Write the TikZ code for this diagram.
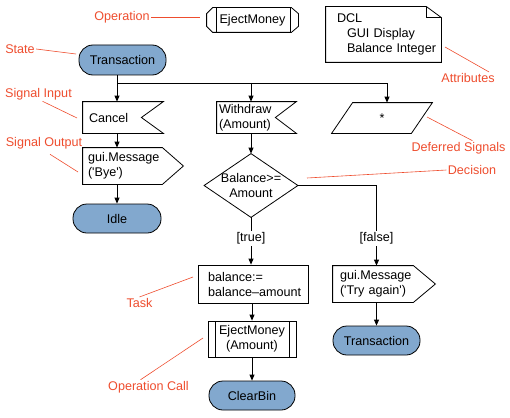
\documentclass[tikz,border=0pt]{standalone}
\usepackage{fontspec}
\setmainfont{Liberation Sans}
\usetikzlibrary{arrows.meta}
\definecolor{statefill}{HTML}{82A8CE}
\definecolor{remarkred}{HTML}{EE4D2E}
\tikzset{
  txt/.style={font=\fontsize{12.6}{15}\selectfont, inner sep=0pt},
  plain/.style={txt, align=left},
  state/.style={txt, draw, fill=statefill, rounded corners=14pt, align=center},
  sidebars/.style={path picture={\draw ([xshift=#1]path picture bounding box.north west) -- ([xshift=#1]path picture bounding box.south west) ([xshift=-#1]path picture bounding box.north east) -- ([xshift=-#1]path picture bounding box.south east);}},
  flow/.style={-{Triangle[length=6pt,width=5pt]}},
  remark/.style={txt, text=remarkred, inner sep=1pt},
  remarkline/.style={draw=remarkred, line width=0.6pt},
  guard/.style={txt, fill=white, inner sep=1.5pt},
}
\begin{document}
\begin{tikzpicture}[x=1pt, y=-1pt, line width=0.8pt]
\useasboundingbox (0,0) rectangle (510,417);
% states
\node[state, minimum width=87pt, minimum height=30pt] (trans) at (122.5,60) {Transaction};
\node[state, minimum width=88pt, minimum height=29pt] (idle) at (117,218.5) {Idle};
\node[state, minimum width=86pt, minimum height=29pt] (clear) at (252,395.5) {ClearBin};
\node[state, minimum width=87pt, minimum height=29pt] (trans2) at (376.5,340.5) {Transaction};
% operation and attributes
\node[txt, minimum width=91pt, minimum height=24pt] (op) at (252.5,20) {EjectMoney};
\draw ([xshift=6pt]op.north west) -- ([xshift=-7pt]op.north east) -- ([yshift=-6pt]op.north east) -- ([yshift=6pt]op.south east) -- ([xshift=-7pt]op.south east) -- ([xshift=6pt]op.south west) -- ([yshift=6pt]op.south west) -- ([yshift=-6pt]op.north west) -- cycle;
\draw ([xshift=10pt]op.north west) -- ([xshift=10pt]op.south west) ([xshift=-8pt]op.north east) -- ([xshift=-8pt]op.south east);
\node[plain, minimum width=115pt, minimum height=55pt, text width=115pt] (note) at (383.5,34.5) {\hspace*{11pt}DCL\\\hspace*{21pt}GUI Display\\\hspace*{21pt}Balance Integer};
\draw (note.south west) -- (note.north west) -- ([xshift=-15pt]note.north east) -- ([yshift=-11pt]note.north east) -- (note.south east) -- cycle;
\draw ([xshift=-15pt]note.north east) |- ([yshift=-11pt]note.north east);
% signals
\node[plain, minimum width=80pt, minimum height=31pt, text width=80pt] (cancel) at (123,117.5) {\hspace*{6pt}Cancel};
\draw (cancel.north west) -- (cancel.north east) -- ([xshift=-22pt]cancel.east) -- (cancel.south east) -- (cancel.south west) -- cycle;
\node[plain, minimum width=79pt, minimum height=31pt, text width=79pt] (withdraw) at (256.5,117.5) {\hspace*{2pt}Withdraw\\\hspace*{2pt}(Amount)};
\draw (withdraw.north west) -- (withdraw.north east) -- ([xshift=-21pt]withdraw.east) -- (withdraw.south east) -- (withdraw.south west) -- cycle;
\node[txt, minimum width=100pt, minimum height=30pt] (deferred) at (382,118) {*};
\draw ([xshift=21pt]deferred.north west) -- (deferred.north east) -- ([xshift=-21pt]deferred.south east) -- (deferred.south west) -- cycle;
\node[plain, minimum width=79pt, minimum height=36pt, text width=79pt] (bye) at (122.5,166) {\hspace*{5pt}gui.Message\\\hspace*{5pt}(\textquotesingle Bye\textquotesingle)};
\draw (bye.north west) -- (bye.north east) -- ([xshift=21pt]bye.east) -- (bye.south east) -- (bye.south west) -- cycle;
\node[plain, minimum width=80pt, minimum height=36pt, text width=80pt] (tryagain) at (373,284) {\hspace*{7pt}gui.Message\\\hspace*{7pt}(\textquotesingle Try again\textquotesingle)};
\draw (tryagain.north west) -- (tryagain.north east) -- ([xshift=22pt]tryagain.east) -- (tryagain.south east) -- (tryagain.south west) -- cycle;
% decision, task, call
\node[txt, align=center, minimum width=93pt, minimum height=63pt] (dec) at (251,185.5) {Balance>=\\Amount};
\draw (dec.north) -- (dec.east) -- (dec.south) -- (dec.west) -- cycle;
\node[plain, draw, minimum width=110pt, minimum height=38pt, text width=110pt] (task) at (253,284) {\hspace*{10pt}balance:=\\\hspace*{10pt}balance\textendash amount};
\node[txt, draw, align=center, minimum width=88pt, minimum height=36pt, sidebars=7pt] (opcall) at (252,339) {EjectMoney\\(Amount)};
% flow
\coordinate (fork) at (117,83);
\draw[flow] (trans.south -| idle) -- (cancel.north -| idle);
\draw[flow] (idle |- fork) -| ([xshift=5pt]deferred.north);
\draw[flow] (dec |- fork) -- (withdraw.north -| dec);
\draw[flow] (cancel.south -| idle) -- (bye.north -| idle);
\draw[flow] (bye.south -| idle) -- (idle.north);
\draw[flow] (withdraw.south -| dec) -- (dec.north);
\draw[flow] (dec.south) -- node[guard, pos=0.44] {[true]} (task.north -| dec);
\draw[flow] (dec.east) -| node[guard, pos=0.83] {[false]} (tryagain.north -| trans2);
\draw[flow] (task.south -| opcall) -- (opcall.north);
\draw[flow] (opcall.south) -- (clear.north);
\draw[flow] (tryagain.south -| trans2) -- (trans2.north);
% remarks
\node[remark] (oplbl) at (122,17) {Operation};
\node[remark] (stlbl) at (20,49) {State};
\node[remark] (silbl) at (38.5,94) {Signal Input};
\node[remark] (solbl) at (44,143) {Signal Output};
\node[remark] (attlbl) at (468,78) {Attributes};
\node[remark] (deflbl) at (458.5,148) {Deferred Signals};
\node[remark] (declbl) at (472,170) {Decision};
\node[remark] (tasklbl) at (139.5,303) {Task};
\node[remark] (oclbl) at (148.5,387) {Operation Call};
\coordinate (oppt) at (200,17);
\coordinate (stpt) at (76,54);
\coordinate (sipt) at (77,118);
\coordinate (sopt) at (78,172);
\coordinate (attpt) at (445,47);
\coordinate (defpt) at (427,117);
\coordinate (decpt) at (307,178);
\coordinate (taskpt) at (193,277);
\coordinate (ocpt) at (203,338);
\draw[remarkline] (oplbl.east) -- (oppt);
\draw[remarkline] (stlbl.east) -- (stpt);
\draw[remarkline] ([xshift=4pt]silbl.south) -- (sipt);
\draw[remarkline] ([xshift=6pt,yshift=-4pt]solbl.south) -- (sopt);
\draw[remarkline] ([xshift=-7pt]attlbl.north east) -- (attpt);
\draw[remarkline] ([xshift=14pt]deflbl.north) -- (defpt);
\draw[remarkline] (declbl.west) -- (decpt);
\draw[remarkline] (tasklbl.north) -- (taskpt);
\draw[remarkline] ([xshift=-8pt]oclbl.north) -- (ocpt);
\end{tikzpicture}
\end{document}
